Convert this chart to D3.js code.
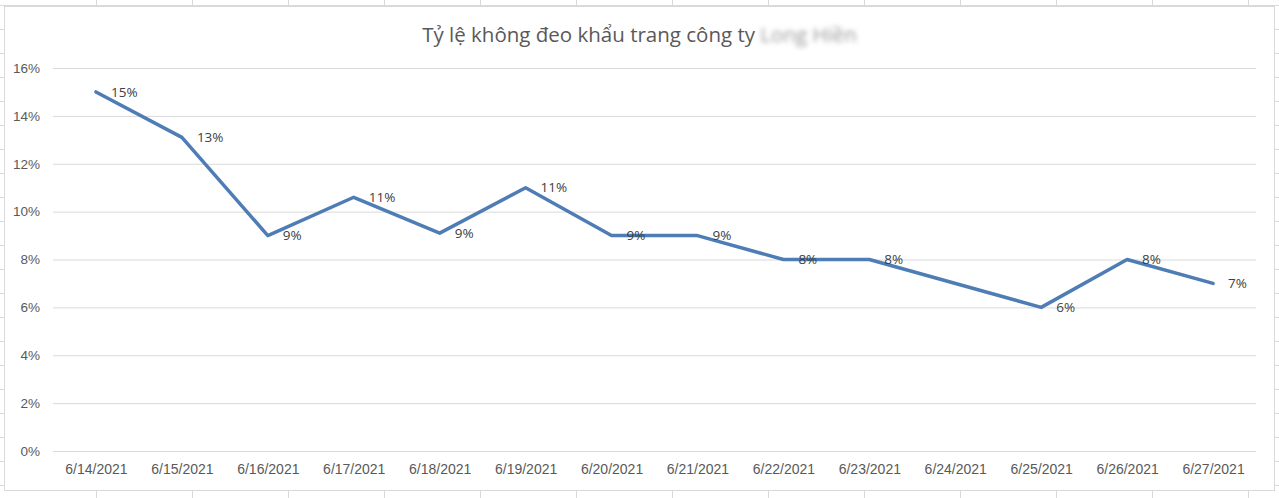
<!DOCTYPE html>
<html>
<head>
<meta charset="utf-8">
<script src="https://cdn.jsdelivr.net/npm/d3@7"></script>
<style>
  html, body { margin: 0; padding: 0; background: #fff; }
  svg { display: block; font-family: "Open Sans", "Noto Sans", sans-serif; }
</style>
</head>
<body>
<svg id="chart" width="1279" height="498"></svg>
<script>
// chart data
const dates = ['6/14/2021', '6/15/2021', '6/16/2021', '6/17/2021', '6/18/2021', '6/19/2021', '6/20/2021',
  '6/21/2021', '6/22/2021', '6/23/2021', '6/24/2021', '6/25/2021', '6/26/2021', '6/27/2021'];
// 6/24 has no value in the sheet, Excel just joins across it
const rates = [0.15, 0.131, 0.09, 0.106, 0.091, 0.11, 0.09, 0.09, 0.08, 0.08, null, 0.06, 0.08, 0.07];
const yTicks = [0, 0.02, 0.04, 0.06, 0.08, 0.10, 0.12, 0.14, 0.16];
const titleText = 'Tỷ lệ không đeo khẩu trang công ty';
const companyName = 'Long Hiền';

const W = 1279, H = 498;
const svg = d3.select('#chart');

// spreadsheet cells peeking out behind the chart object
const sheet = svg.append('g').attr('stroke', '#dadada').attr('stroke-width', 1);
for (let x = 96; x < W; x += 96) {
  sheet.append('line').attr('x1', x + 0.5).attr('x2', x + 0.5).attr('y1', 0).attr('y2', H);
}
for (let y = 5; y < H; y += 24) {
  sheet.append('line').attr('x1', 0).attr('x2', W).attr('y1', y + 0.5).attr('y2', y + 0.5);
}

// chart area
svg.append('rect')
  .attr('x', 4.5).attr('y', 6.5).attr('width', 1270).attr('height', 484)
  .attr('fill', '#fff').attr('stroke', '#d9d9d9');

const plot = { left: 53, right: 1256, top: 68, bottom: 451 };

const x = d3.scalePoint().domain(dates).range([plot.left, plot.right]).padding(0.5);
const y = d3.scaleLinear().domain([0, 0.16]).range([plot.bottom, plot.top]);

// gridlines
svg.append('g')
  .attr('transform', `translate(${plot.left},0)`)
  .call(d3.axisLeft(y).tickValues(yTicks).tickSize(-(plot.right - plot.left)).tickFormat(''))
  .call(g => g.select('.domain').remove())
  .call(g => g.selectAll('.tick line').attr('stroke', '#d9d9d9'));

// y labels
svg.append('g')
  .attr('transform', `translate(${plot.left},0)`)
  .call(d3.axisLeft(y).tickValues(yTicks).tickSize(0).tickPadding(13).tickFormat(d3.format('.0%')))
  .call(g => g.select('.domain').remove())
  .call(g => g.selectAll('text').attr('fill', '#595959').attr('font-size', 13.5).attr('font-family', null));

// x labels
svg.append('g')
  .attr('transform', `translate(0,${plot.bottom})`)
  .call(d3.axisBottom(x).tickSize(0).tickPadding(13))
  .call(g => g.select('.domain').remove())
  .call(g => g.selectAll('text').attr('fill', '#595959').attr('font-size', 14).attr('font-family', null));

const pts = dates.map((d, i) => ({ d, v: rates[i] })).filter(p => p.v != null);

const line = d3.line().x(p => x(p.d)).y(p => y(p.v));
svg.append('path')
  .datum(pts)
  .attr('d', line)
  .attr('fill', 'none')
  .attr('stroke', '#4e7db6')
  .attr('stroke-width', 3.5)
  .attr('stroke-linejoin', 'round')
  .attr('stroke-linecap', 'round');

// data labels, placed to the right of each point
svg.append('g').selectAll('text')
  .data(pts)
  .join('text')
  .attr('x', p => x(p.d) + 15)
  .attr('y', p => y(p.v))
  .attr('dy', '0.35em')
  .attr('font-size', 13.5)
  .attr('fill', '#404040')
  .text(p => d3.format('.0%')(p.v));

// title, company name is blurred like the screenshot
svg.append('defs').append('filter').attr('id', 'blur')
  .append('feGaussianBlur').attr('stdDeviation', 2.4);

const title = svg.append('text')
  .attr('x', 639.5).attr('y', 42)
  .attr('text-anchor', 'middle')
  .attr('font-size', 20.5)
  .attr('fill', '#595959');
title.append('tspan').text(titleText + ' ');
title.append('tspan').attr('filter', 'url(#blur)').attr('fill', '#9a9a9a').text(companyName);
</script>
</body>
</html>
